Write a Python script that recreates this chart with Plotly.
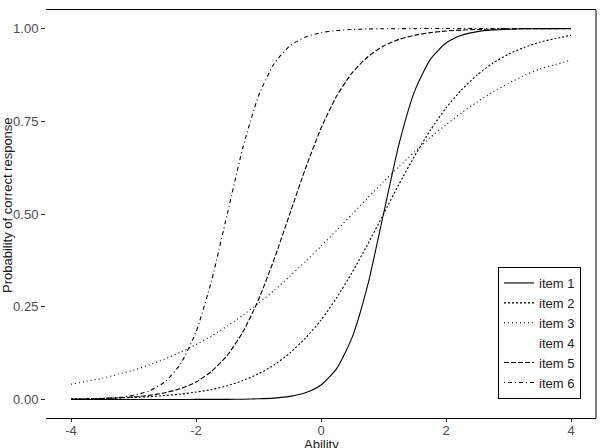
import plotly.graph_objects as go

ability = [-4, -3.75, -3.5, -3.25, -3, -2.75, -2.5, -2.25, -2, -1.75, -1.5, -1.25, -1,
           -0.75, -0.5, -0.25, 0, 0.25, 0.5, 0.75, 1, 1.25, 1.5, 1.75, 2, 2.25, 2.5,
           2.75, 3, 3.25, 3.5, 3.75, 4]

item1 = [0, 0, 0, 0, 0, 0, 0, 0, 0.0001, 0.0001, 0.0003, 0.0007, 0.0017,
         0.0037, 0.0082, 0.018, 0.039, 0.083, 0.168, 0.310, 0.5, 0.690, 0.832, 0.917, 0.961, 0.982, 0.9918,
         0.9963, 0.9983, 0.9993, 0.9997, 0.9999, 1.0]
item2 = [0.0015, 0.0021, 0.0029, 0.0040, 0.0055, 0.0076, 0.0105, 0.0144, 0.0198, 0.027, 0.037, 0.051, 0.069,
         0.093, 0.125, 0.165, 0.214, 0.274, 0.343, 0.419, 0.5, 0.581, 0.657, 0.726, 0.786, 0.835, 0.875,
         0.907, 0.931, 0.949, 0.963, 0.973, 0.982]
item3 = [0.041, 0.049, 0.057, 0.068, 0.079, 0.093, 0.109, 0.127, 0.148, 0.171, 0.198, 0.227, 0.259,
         0.294, 0.332, 0.372, 0.413, 0.456, 0.5, 0.544, 0.587, 0.628, 0.668, 0.706, 0.741, 0.773, 0.802,
         0.829, 0.852, 0.873, 0.891, 0.903, 0.915]
item4 = [0.018, 0.023, 0.029, 0.037, 0.047, 0.060, 0.076, 0.095, 0.119, 0.148, 0.182, 0.223, 0.269,
         0.321, 0.378, 0.438, 0.5, 0.562, 0.622, 0.679, 0.731, 0.777, 0.818, 0.852, 0.881, 0.905, 0.924,
         0.940, 0.953, 0.963, 0.971, 0.977, 0.982]
item5 = [0.0009, 0.0015, 0.0025, 0.0041, 0.0067, 0.011, 0.018, 0.029, 0.047, 0.076, 0.119, 0.182, 0.269,
         0.378, 0.5, 0.622, 0.731, 0.818, 0.881, 0.924, 0.953, 0.971, 0.982, 0.989, 0.9933, 0.9959, 0.9975,
         0.9985, 0.9991, 0.9994, 0.9997, 0.9998, 0.9999]
item6 = [0.0006, 0.0012, 0.0025, 0.0052, 0.011, 0.023, 0.047, 0.095, 0.182, 0.321, 0.5, 0.679, 0.818,
         0.905, 0.953, 0.977, 0.989, 0.9948, 0.9975, 0.9988, 0.9994, 0.9997, 0.9999, 1.0, 1.0, 1.0, 1.0,
         1.0, 1.0, 1.0, 1.0, 1.0, 1.0]

names = ["item 1", "item 2", "item 3", "item 4", "item 5", "item 6"]
series = [item1, item2, item3, item4, item5, item6]
dashes = ["solid", "2px,2px", "1px,3px", "solid", "5px,2px", "1px,3px,4px,3px"]
colors = ["black", "black", "black", "rgba(0,0,0,0)", "black", "black"]

x_ticks = [-4, -2, 0, 2, 4]
x_ticktext = ["-4", "-2", "0", "2", "4"]
y_ticks = [0, 0.25, 0.5, 0.75, 1.0]
y_ticktext = ["0.00", "0.25", "0.50", "0.75", "1.00"]

fig = go.Figure()
for n, s, d, c in zip(names, series, dashes, colors):
    fig.add_trace(go.Scatter(x=ability, y=s, mode="lines", name=n,
                             line=dict(color=c, width=1.1, dash=d, shape="spline", smoothing=0.6)))

W, H = 600, 448
L, R, T, B = 46, 4, 10, 30
fig.update_layout(
    width=W, height=H,
    margin=dict(l=L, r=R, t=T, b=B),
    paper_bgcolor="white", plot_bgcolor="white",
    font=dict(family="Liberation Sans, Arial, sans-serif", size=13, color="#1a1a1a"),
    showlegend=True,
    legend=dict(x=(581 - L) / (W - L - R), xanchor="right",
                y=(H - B - 399) / (H - T - B), yanchor="bottom",
                bgcolor="white", bordercolor="black", borderwidth=1,
                font=dict(size=13, color="#1a1a1a"), itemwidth=30, tracegroupgap=0),
    xaxis=dict(range=[-4.4, 4.4], tickvals=x_ticks, ticktext=x_ticktext,
               showgrid=False, zeroline=False, showline=True, linecolor="black", linewidth=1,
               mirror=True, ticks="outside", ticklen=3, tickcolor="#333333",
               ticklabelstandoff=-3,
               tickfont=dict(size=13, color="#4d4d4d")),
    yaxis=dict(range=[-0.05, 1.05], tickvals=y_ticks, ticktext=y_ticktext,
               showgrid=False, zeroline=False, showline=False,
               ticks="outside", ticklen=4, tickcolor="#333333",
               tickfont=dict(size=13, color="#4d4d4d")),
    shapes=[dict(type="line", xref="paper", yref="paper", x0=1, x1=1, y0=0, y1=1,
                 line=dict(color="black", width=1))],
    annotations=[
        dict(text="Probability of correct response", xref="paper", yref="paper",
             x=-(L - 7) / (W - L - R), y=(H - B - 205) / (H - T - B), textangle=-90,
             showarrow=False, xanchor="center", yanchor="middle",
             font=dict(size=13, color="#1a1a1a")),
        dict(text="Ability", xref="paper", yref="paper", x=0.5, y=-(444 - (H - B)) / (H - T - B),
             showarrow=False, xanchor="center", yanchor="middle",
             font=dict(size=13, color="#1a1a1a")),
    ],
)

fig.write_html("out.html")
